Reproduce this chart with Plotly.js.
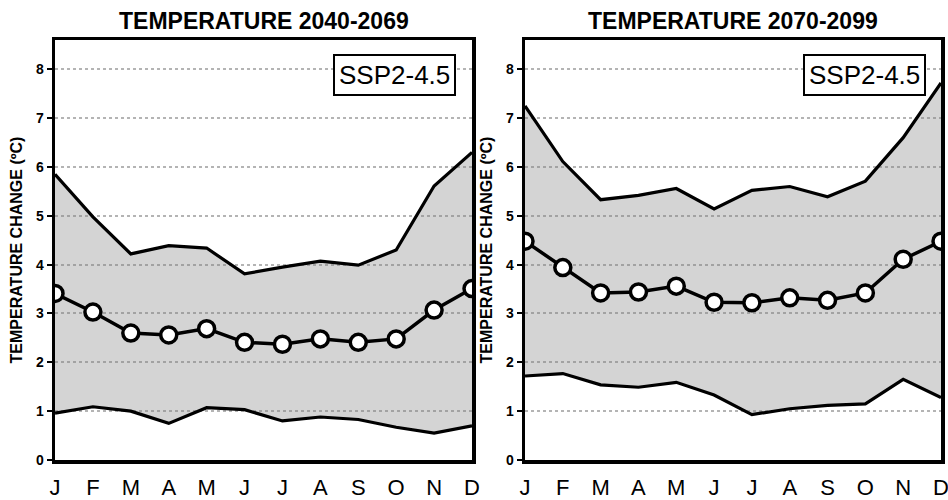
<!DOCTYPE html>
<html>
<head>
<meta charset="utf-8">
<script src="https://cdn.plot.ly/plotly-3.0.1.min.js"></script>
<style>html,body{margin:0;padding:0;background:#fff;}#chart{width:948px;height:500px;}</style>
</head>
<body>
<div id="chart"></div>
<script>
const months = ["J","F","M","A","M","J","J","A","S","O","N","D"];
const monthIndex = [0,1,2,3,4,5,6,7,8,9,10,11];
const yTicks = [0,1,2,3,4,5,6,7,8];

// 2040-2069
const upper1 = [5.85, 4.98, 4.22, 4.39, 4.34, 3.81, 3.95, 4.07, 3.99, 4.30, 5.61, 6.30];
const mean1  = [3.41, 3.03, 2.60, 2.56, 2.69, 2.41, 2.37, 2.48, 2.41, 2.48, 3.07, 3.51];
const lower1 = [0.96, 1.09, 1.00, 0.75, 1.07, 1.03, 0.80, 0.88, 0.83, 0.67, 0.55, 0.70];

// 2070-2099
const upper2 = [7.25, 6.11, 5.33, 5.42, 5.56, 5.14, 5.52, 5.60, 5.39, 5.71, 6.60, 7.72];
const mean2  = [4.48, 3.94, 3.42, 3.44, 3.56, 3.23, 3.22, 3.32, 3.27, 3.42, 4.11, 4.48];
const lower2 = [1.72, 1.77, 1.54, 1.49, 1.59, 1.33, 0.93, 1.05, 1.12, 1.15, 1.65, 1.28];

const titles = ["TEMPERATURE 2040-2069", "TEMPERATURE 2070-2099"];
const scenario = "SSP2-4.5";
const yTitle = "TEMPERATURE CHANGE (ºC)";

const W = 948, H = 500;
const fillCol = "rgba(128,128,128,0.34)";
const FONT = "Liberation Sans, Arial, sans-serif";

function band(lower, upper, mean, xa, ya) {
  return [
    {x: monthIndex, y: lower, xaxis: xa, yaxis: ya, mode: "lines", type: "scatter",
     line: {color: "black", width: 3.2}, hoverinfo: "skip"},
    {x: monthIndex, y: upper, xaxis: xa, yaxis: ya, mode: "lines", type: "scatter",
     fill: "tonexty", fillcolor: fillCol, line: {color: "black", width: 3.2}, hoverinfo: "skip"},
    {x: monthIndex, y: mean, xaxis: xa, yaxis: ya, mode: "lines+markers", type: "scatter",
     line: {color: "black", width: 3.5},
     marker: {symbol: "circle", size: 16, color: "white", line: {color: "black", width: 3.5}}}
  ];
}

const data = [].concat(
  band(lower1, upper1, mean1, "x", "y"),
  band(lower2, upper2, mean2, "x2", "y2")
);

function xax(dom) {
  return {
    domain: dom, range: [0, 11], tickmode: "array", tickvals: monthIndex, ticktext: months,
    showgrid: false, zeroline: false, showline: true, mirror: true, linecolor: "black", linewidth: 3.5,
    ticks: "", ticklabelstandoff: 5, ticklabeloverflow: "allow",
    tickfont: {family: FONT, size: 22, color: "black"},
    fixedrange: true
  };
}
function yax(anchor) {
  return {
    domain: [0.08, 0.92], range: [0, 8.6], anchor: anchor, tickmode: "array", tickvals: yTicks,
    showgrid: true, gridcolor: "#b4b4b4", gridwidth: 2, griddash: "dot",
    zeroline: false, showline: true, mirror: true, linecolor: "black", linewidth: 3.5,
    ticks: "outside", ticklen: 5, tickwidth: 2, tickcolor: "black",
    tickfont: {family: FONT, size: 14, color: "black", weight: "bold"},
    title: {text: "<b>" + yTitle + "</b>", standoff: 10,
            font: {family: FONT, size: 16, color: "black"}},
    fixedrange: true
  };
}

const dom1 = [55 / W, 472 / W];
const dom2 = [525 / W, 941 / W];

const annFont = {family: FONT, color: "black"};
const layout = {
  width: W, height: H, margin: {l: 0, r: 0, t: 0, b: 0},
  paper_bgcolor: "white", plot_bgcolor: "white", showlegend: false,
  xaxis: xax(dom1), yaxis: yax("x"),
  xaxis2: Object.assign(xax(dom2), {anchor: "y2"}), yaxis2: yax("x2"),
  annotations: [
    {xref: "paper", yref: "paper", x: (dom1[0] + dom1[1]) / 2, y: 1 - 21 / H, xanchor: "center", yanchor: "middle",
     text: "<b>" + titles[0] + "</b>", showarrow: false, font: Object.assign({size: 23}, annFont)},
    {xref: "paper", yref: "paper", x: (dom2[0] + dom2[1]) / 2, y: 1 - 21 / H, xanchor: "center", yanchor: "middle",
     text: "<b>" + titles[1] + "</b>", showarrow: false, font: Object.assign({size: 23}, annFont)},
    {xref: "paper", yref: "paper", x: 456 / W, y: 1 - 54 / H, xanchor: "right", yanchor: "top",
     text: scenario, showarrow: false, bgcolor: "white", bordercolor: "black", borderwidth: 2, borderpad: 4,
     font: Object.assign({size: 26}, annFont)},
    {xref: "paper", yref: "paper", x: 926 / W, y: 1 - 54 / H, xanchor: "right", yanchor: "top",
     text: scenario, showarrow: false, bgcolor: "white", bordercolor: "black", borderwidth: 2, borderpad: 4,
     font: Object.assign({size: 26}, annFont)}
  ]
};

Plotly.newPlot("chart", data, layout, {displayModeBar: false, staticPlot: true});
</script>
</body>
</html>
